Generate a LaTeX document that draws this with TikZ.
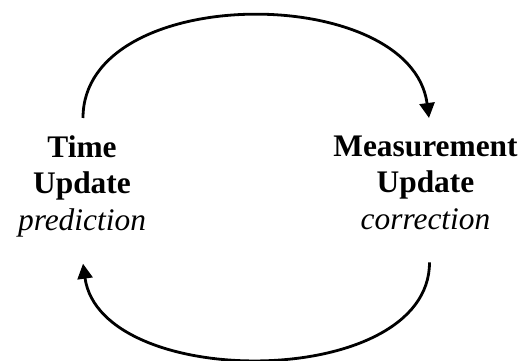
\documentclass[tikz,border=0pt]{standalone}
\usepackage{fontspec}
\setmainfont{Liberation Serif}
\usetikzlibrary{arrows.meta,positioning}

\begin{document}
\begin{tikzpicture}[x=1pt,y=1pt,
            phase/.style={align=center,inner sep=0pt,anchor=north,text depth=7pt,font=\fontsize{31.4}{36.5}\selectfont},
            cycle/.style={draw,line width=2.8pt,-{Triangle[length=15pt,width=15pt]}}
          ]
          \useasboundingbox (0,0) rectangle (527,361);

          %phases
          \node[phase] (time) at (82,225.5) {\textbf{Time}\\\textbf{Update}\\\textit{prediction}};
          \node[phase] (meas) at (425.5,225.5) {\textbf{Measurement}\\\textbf{Update}\\\textit{correction}};

          %arc ends
          \coordinate[above=17.5pt of time,xshift=1pt] (timeout);
          \coordinate[below=26pt of time,xshift=1pt] (timein);
          \coordinate[above=17.5pt of meas,xshift=3.5pt] (measin);
          \coordinate[below=26pt of meas,xshift=4pt] (measout);

          %loop
          \path[cycle] (timeout) .. controls +(0,136) and +(-18,136) .. (measin);
          \path[cycle] (measout) .. controls +(0,-128) and +(18,-128) .. (timein);

      \end{tikzpicture}
\end{document}
